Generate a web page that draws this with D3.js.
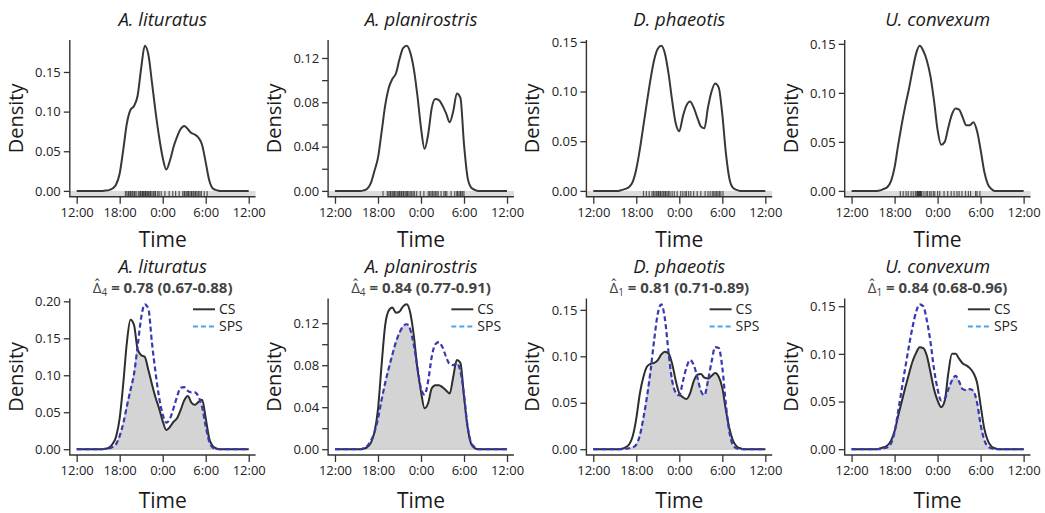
<!DOCTYPE html>
<html>
<head>
<meta charset="utf-8">
<script src="https://cdn.jsdelivr.net/npm/d3@7/dist/d3.min.js"></script>
<style>
  body { margin: 0; background: #fff; }
  svg text { font-family: "Open Sans", "Noto Sans", sans-serif; }
</style>
</head>
<body>
<svg id="chart" width="1045" height="513"></svg>
<script>
// time grid (hours, 24+ = after midnight)
const hours = [12, 15, 15.5, 16, 16.5, 17, 17.5, 18, 18.5, 19, 19.5, 20, 20.5, 21, 21.5, 22, 22.5,
  23, 23.5, 24, 24.5, 25, 25.5, 26, 26.5, 27, 27.5, 28, 28.5, 29, 29.5, 30, 30.5, 31, 31.5, 32, 32.5, 33, 36];

const species = ["A. lituratus", "A. planirostris", "D. phaeotis", "U. convexum"];
const xTicks = [12, 18, 24, 30, 36];
const xTickLabels = ["12:00", "18:00", "0:00", "6:00", "12:00"];

// top row densities
const litTop = [0, 0, 0, 0.0005, 0.001, 0.003, 0.008, 0.022, 0.052, 0.085, 0.102, 0.107, 0.12, 0.155, 0.183, 0.172, 0.137,
  0.1, 0.068, 0.042, 0.027, 0.038, 0.055, 0.068, 0.078, 0.082, 0.078, 0.073, 0.071, 0.067, 0.058, 0.036, 0.013, 0.003, 0.001, 0, 0, 0, 0];
const plaTop = [0, 0, 0, 0.0005, 0.002, 0.007, 0.018, 0.03, 0.053, 0.077, 0.093, 0.101, 0.106, 0.119, 0.129, 0.131, 0.125,
  0.11, 0.086, 0.057, 0.038, 0.051, 0.075, 0.083, 0.082, 0.077, 0.07, 0.062, 0.072, 0.088, 0.084, 0.042, 0.012, 0.003, 0.001, 0, 0, 0, 0];
const phaTop = [0, 0, 0, 0.001, 0.002, 0.004, 0.009, 0.022, 0.042, 0.066, 0.09, 0.113, 0.132, 0.143, 0.146, 0.138, 0.118,
  0.091, 0.068, 0.06, 0.075, 0.086, 0.09, 0.084, 0.074, 0.065, 0.063, 0.084, 0.1, 0.108, 0.104, 0.077, 0.038, 0.012, 0.003, 0.001, 0, 0, 0];
const conTop = [0, 0, 0, 0.0005, 0.002, 0.004, 0.01, 0.024, 0.047, 0.068, 0.087, 0.104, 0.123, 0.14, 0.148, 0.143, 0.133,
  0.117, 0.092, 0.062, 0.047, 0.05, 0.065, 0.078, 0.084, 0.083, 0.075, 0.067, 0.067, 0.07, 0.061, 0.042, 0.02, 0.007, 0.002, 0, 0, 0, 0];

// bottom row: CS and SPS densities
const litCS = [0, 0, 0, 0.0005, 0.002, 0.007, 0.017, 0.042, 0.089, 0.144, 0.175, 0.168, 0.135, 0.127, 0.125, 0.107, 0.088,
  0.07, 0.055, 0.038, 0.026, 0.03, 0.037, 0.042, 0.053, 0.066, 0.072, 0.063, 0.06, 0.064, 0.067, 0.042, 0.014, 0.004, 0.001, 0, 0, 0, 0];
const litSPS = [0, 0, 0, 0.0005, 0.001, 0.003, 0.007, 0.018, 0.035, 0.058, 0.08, 0.102, 0.139, 0.178, 0.196, 0.19, 0.144,
  0.104, 0.07, 0.047, 0.036, 0.041, 0.055, 0.071, 0.083, 0.084, 0.079, 0.077, 0.077, 0.071, 0.057, 0.031, 0.01, 0.002, 0, 0, 0, 0, 0];
const plaCS = [0, 0, 0, 0.0005, 0.002, 0.006, 0.016, 0.038, 0.08, 0.118, 0.132, 0.135, 0.13, 0.131, 0.136, 0.138, 0.13,
  0.108, 0.077, 0.055, 0.039, 0.044, 0.058, 0.061, 0.061, 0.059, 0.056, 0.053, 0.069, 0.085, 0.082, 0.05, 0.021, 0.005, 0.001, 0, 0, 0, 0];
const plaSPS = [0, 0, 0, 0.001, 0.003, 0.008, 0.016, 0.029, 0.047, 0.063, 0.077, 0.09, 0.102, 0.111, 0.117, 0.119, 0.114,
  0.099, 0.078, 0.058, 0.052, 0.065, 0.088, 0.1, 0.102, 0.097, 0.088, 0.081, 0.08, 0.082, 0.074, 0.052, 0.022, 0.006, 0.002, 0, 0, 0, 0];
const phaCS = [0, 0, 0, 0.0005, 0.002, 0.005, 0.014, 0.033, 0.06, 0.078, 0.089, 0.092, 0.093, 0.096, 0.102, 0.105, 0.103,
  0.092, 0.074, 0.06, 0.056, 0.054, 0.06, 0.073, 0.08, 0.081, 0.077, 0.076, 0.079, 0.082, 0.078, 0.066, 0.042, 0.022, 0.009, 0.003, 0.001, 0, 0];
const phaSPS = [0, 0, 0, 0, 0.0005, 0.001, 0.002, 0.005, 0.015, 0.034, 0.057, 0.085, 0.118, 0.146, 0.156, 0.14, 0.104,
  0.074, 0.061, 0.058, 0.073, 0.088, 0.096, 0.091, 0.078, 0.063, 0.058, 0.074, 0.094, 0.11, 0.109, 0.088, 0.048, 0.018, 0.004, 0.001, 0, 0, 0];
const conCS = [0, 0, 0, 0.001, 0.002, 0.004, 0.009, 0.019, 0.035, 0.05, 0.065, 0.079, 0.092, 0.101, 0.107, 0.106, 0.098,
  0.081, 0.063, 0.051, 0.044, 0.051, 0.08, 0.1, 0.1, 0.095, 0.09, 0.088, 0.085, 0.08, 0.07, 0.046, 0.022, 0.009, 0.003, 0.001, 0, 0, 0];
const conSPS = [0, 0, 0, 0, 0.001, 0.002, 0.006, 0.018, 0.04, 0.063, 0.086, 0.108, 0.128, 0.144, 0.152, 0.15, 0.135,
  0.113, 0.084, 0.063, 0.051, 0.053, 0.063, 0.072, 0.077, 0.071, 0.063, 0.062, 0.063, 0.061, 0.049, 0.026, 0.01, 0.003, 0.001, 0, 0, 0, 0];

// rug (detection times, hours)
const litRug = [18.8, 19.0, 19.2, 19.3, 19.5, 19.6, 19.8, 20.0, 20.1, 20.3, 20.6, 20.8, 20.9, 21.1, 21.2, 21.3, 21.5, 21.6,
  21.7, 21.9, 22.0, 22.2, 22.3, 22.5, 22.7, 22.9, 23.0, 23.3, 23.5, 23.8, 24.3, 24.9, 25.4, 25.8, 26.3, 26.8, 27.0, 27.1,
  27.3, 27.5, 27.6, 27.8, 28.0, 28.1, 28.3, 28.5, 28.6, 28.8, 29.0, 29.2, 29.4, 29.8, 30.2];
const plaRug = [18.7, 19.3, 19.5, 19.7, 19.8, 20.0, 20.2, 20.3, 20.5, 20.7, 20.9, 21.0, 21.2, 21.3, 21.5, 21.6, 21.8, 22.0,
  22.1, 22.3, 22.5, 22.7, 22.9, 23.1, 23.4, 23.9, 24.4, 25.0, 25.2, 25.4, 25.6, 25.8, 26.0, 26.2, 26.4, 26.8, 27.2, 27.4,
  27.6, 28.2, 28.7, 29.0, 29.1, 29.3, 29.5, 29.6, 29.8, 30.0];
const phaRug = [19.0, 19.4, 19.8, 20.2, 20.4, 20.6, 20.8, 21.0, 21.1, 21.3, 21.4, 21.6, 21.8, 22.0, 22.1, 22.3, 22.5, 22.7,
  23.0, 23.3, 23.7, 24.2, 24.5, 24.8, 25.0, 25.3, 25.6, 26.0, 26.5, 27.0, 27.6, 28.0, 28.3, 28.6, 28.8, 29.0, 29.2, 29.4,
  29.6, 29.8, 30.1];
const conRug = [18.8, 19.2, 19.6, 19.9, 20.3, 20.6, 20.9, 21.1, 21.2, 21.3, 21.4, 21.5, 21.6, 21.7, 21.8, 22.1, 22.4, 22.6,
  22.9, 23.1, 23.4, 23.6, 24.0, 24.3, 24.9, 25.4, 25.9, 26.3, 26.7, 27.0, 27.4, 27.9, 28.3, 28.6, 29.3, 29.5, 29.9];

// y ticks and which of them carry labels
const topTicks = [[0, 0.05, 0.10, 0.15], [0, 0.02, 0.04, 0.06, 0.08, 0.10, 0.12], [0, 0.05, 0.10, 0.15], [0, 0.05, 0.10, 0.15]];
const bottomTicks = [[0, 0.05, 0.10, 0.15, 0.20], [0, 0.02, 0.04, 0.06, 0.08, 0.10, 0.12], [0, 0.05, 0.10, 0.15], [0, 0.05, 0.10, 0.15]];
const labelStep = [0.05, 0.04, 0.05, 0.05];

// overlap estimates
const deltaSub = ["4", "4", "1", "1"];
const deltaText = ["0.78 (0.67-0.88)", "0.84 (0.77-0.91)", "0.81 (0.71-0.89)", "0.84 (0.68-0.96)"];

const topSeries = [litTop, plaTop, phaTop, conTop];
const rugs = [litRug, plaRug, phaRug, conRug];
const csSeries = [litCS, plaCS, phaCS, conCS];
const spsSeries = [litSPS, plaSPS, phaSPS, conSPS];

[...topSeries, ...csSeries, ...spsSeries].forEach((s, i) => {
  if (s.length !== hours.length) console.error("length mismatch", i, s.length);
});

const svg = d3.select("#chart");
const axisColor = "#333";

function makeScales(col, row, maxVal) {
  const left = 69.8 + 258.3 * col;
  const right = left + 185.8;
  const top = row === 0 ? 40 : 298.5;
  const bottom = row === 0 ? 196.7 : 455;
  const x = d3.scaleLinear().domain([12 - 0.96, 36 + 0.96]).range([left, right]);
  const y = d3.scaleLinear().domain([-0.04 * maxVal, 1.04 * maxVal]).range([bottom, top]);
  return { x, y, left, right, top, bottom };
}

function drawAxes(g, s, col, ticks, row) {
  // L-shaped box
  g.append("path")
    .attr("d", `M${s.left},${s.top}V${s.bottom}H${s.right}`)
    .attr("fill", "none")
    .attr("stroke", axisColor)
    .attr("stroke-width", 1.4);

  const step = labelStep[col];
  const yAxis = g.append("g")
    .attr("transform", `translate(${s.left},0)`)
    .call(d3.axisLeft(s.y).tickValues(ticks).tickSize(6).tickPadding(3)
      .tickFormat(d => Math.abs(Math.round(d / step) * step - d) < 1e-9 ? d3.format(".2f")(d) : ""));
  yAxis.select(".domain").remove();

  const xAxis = g.append("g")
    .attr("transform", `translate(0,${s.bottom})`)
    .call(d3.axisBottom(s.x).tickValues(xTicks).tickSize(7).tickPadding(4)
      .tickFormat((d, i) => xTickLabels[i]));
  xAxis.select(".domain").remove();

  g.selectAll(".tick line").attr("stroke", axisColor).attr("stroke-width", 1.3);
  g.selectAll(".tick text").attr("fill", "#222").style("font-size", "13px");

  const cx = (s.left + s.right) / 2;
  g.append("text")
    .attr("x", cx)
    .attr("y", s.bottom + (row === 0 ? 50 : 52.5))
    .attr("text-anchor", "middle")
    .attr("fill", "#1a1a1a")
    .style("font-size", "21px")
    .text("Time");

  g.append("text")
    .attr("transform", `translate(${s.left - 47},${(s.top + s.bottom) / 2}) rotate(-90)`)
    .attr("text-anchor", "middle")
    .attr("fill", "#1a1a1a")
    .style("font-size", "20px")
    .text("Density");
}

// top row: activity densities with rug
topSeries.forEach((vals, col) => {
  const s = makeScales(col, 0, d3.max(vals));
  const g = svg.append("g");

  g.append("rect")
    .attr("x", s.left)
    .attr("y", s.y(0))
    .attr("width", s.right - s.left)
    .attr("height", s.bottom - s.y(0) - 0.7)
    .attr("fill", "#dcdcdc");

  g.selectAll(".rug")
    .data(rugs[col])
    .enter()
    .append("line")
    .attr("class", "rug")
    .attr("x1", d => s.x(d))
    .attr("x2", d => s.x(d))
    .attr("y1", s.y(0))
    .attr("y2", s.bottom - 0.7)
    .attr("stroke", "#000")
    .attr("stroke-opacity", 0.6)
    .attr("stroke-width", 1.2);

  drawAxes(g, s, col, topTicks[col], 0);

  g.append("path")
    .datum(vals)
    .attr("fill", "none")
    .attr("stroke", "#383838")
    .attr("stroke-width", 2)
    .attr("stroke-linejoin", "round")
    .attr("d", d3.line().x((d, i) => s.x(hours[i])).y(d => s.y(d)).curve(d3.curveMonotoneX));

  g.append("text")
    .attr("x", (s.left + s.right) / 2)
    .attr("y", 26)
    .attr("text-anchor", "middle")
    .attr("fill", "#1a1a1a")
    .style("font-size", "18.5px")
    .style("font-style", "italic")
    .text(species[col]);
});

// bottom row: overlap plots
csSeries.forEach((cs, col) => {
  const sps = spsSeries[col];
  const s = makeScales(col, 1, d3.max([...cs, ...sps]));
  const g = svg.append("g");
  const lowest = cs.map((v, i) => Math.min(v, sps[i]));

  g.append("path")
    .datum(lowest)
    .attr("fill", "#d4d4d4")
    .attr("stroke", "#bdbdbd")
    .attr("stroke-width", 0.8)
    .attr("d", d3.area().x((d, i) => s.x(hours[i])).y0(s.y(0)).y1(d => s.y(d)).curve(d3.curveMonotoneX));

  drawAxes(g, s, col, bottomTicks[col], 1);

  const line = d3.line().x((d, i) => s.x(hours[i])).y(d => s.y(d)).curve(d3.curveMonotoneX);

  g.append("path")
    .datum(cs)
    .attr("fill", "none")
    .attr("stroke", "#2e2e2e")
    .attr("stroke-width", 2)
    .attr("stroke-linejoin", "round")
    .attr("d", line);

  g.append("path")
    .datum(sps)
    .attr("fill", "none")
    .attr("stroke", "#3838b4")
    .attr("stroke-width", 2.2)
    .attr("stroke-dasharray", "5,3")
    .attr("d", line);

  const cx = (s.left + s.right) / 2;
  g.append("text")
    .attr("x", cx)
    .attr("y", 272.5)
    .attr("text-anchor", "middle")
    .attr("fill", "#1a1a1a")
    .style("font-size", "18.5px")
    .style("font-style", "italic")
    .text(species[col]);

  const lab = g.append("text")
    .attr("x", cx)
    .attr("y", 293)
    .attr("text-anchor", "middle")
    .attr("fill", "#444")
    .style("font-size", "15px");
  lab.append("tspan").text("\u0394\u0302");
  lab.append("tspan").attr("dy", 3).style("font-size", "10px").text(deltaSub[col]);
  lab.append("tspan").attr("dy", -3).style("font-weight", "bold").text(" = " + deltaText[col]);

  // legend
  const lx = s.left + 123.2;
  const legend = [
    { name: "CS", y: 309.3, color: "#333", dash: null },
    { name: "SPS", y: 326.5, color: "#4aa6ec", dash: "5,3" }
  ];
  legend.forEach(d => {
    g.append("line")
      .attr("x1", lx).attr("x2", lx + 22)
      .attr("y1", d.y).attr("y2", d.y)
      .attr("stroke", d.color)
      .attr("stroke-width", 2)
      .attr("stroke-dasharray", d.dash);
    g.append("text")
      .attr("x", lx + 26)
      .attr("y", d.y)
      .attr("dy", "0.35em")
      .attr("fill", "#222")
      .style("font-size", "14px")
      .text(d.name);
  });
});
</script>
</body>
</html>
